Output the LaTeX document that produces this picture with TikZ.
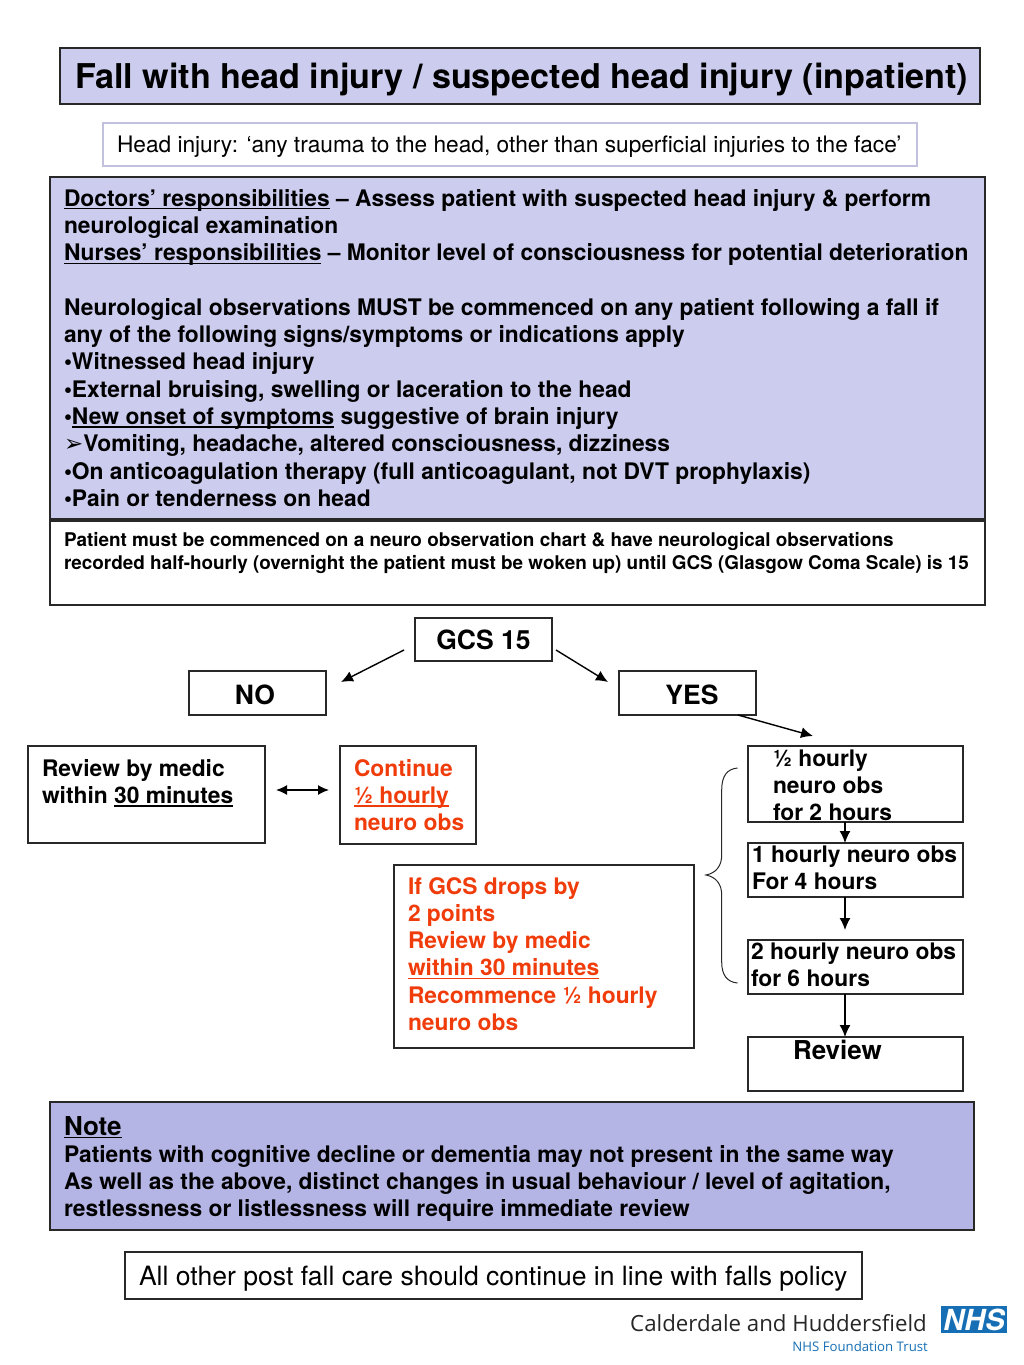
\documentclass[tikz,border=0pt]{standalone}
\usepackage{fontspec}
\setmainfont{TeX Gyre Heros}
\newfontfamily\logofont{Open Sans}
\newfontfamily\symfont{DejaVu Sans}
\usetikzlibrary{arrows.meta}

\definecolor{panelblue}{RGB}{204,204,238}
\definecolor{noteblue}{RGB}{181,181,229}
\definecolor{alertred}{RGB}{240,60,10}
\definecolor{nhsblue}{RGB}{22,110,180}
\definecolor{edgegray}{RGB}{40,40,40}

% width, height, left pad, first baseline, text
\newcommand{\topbox}[5]{\parbox[c][#2pt][t]{#1pt}{\raggedright\leftskip=#3pt\rule{0pt}{#4pt}#5\par}}
\newcommand{\bodyfont}{\fontsize{22.8}{27.3}\selectfont\bfseries}
\newcommand{\ulined}[1]{\leavevmode\setbox0\hbox{#1}\rlap{\rule[-3.4pt]{\wd0}{1.5pt}}\box0\relax}

\tikzset{
  panel/.style={draw=edgegray,line width=1.2pt,anchor=north west,inner sep=0pt,outer sep=0pt},
  bodytext/.style={font=\bodyfont},
  redtext/.style={font=\bodyfont,text=alertred},
  headbox/.style={panel,font=\fontsize{26.5}{30}\selectfont\bfseries,align=center,anchor=center,text depth=0pt},
  arrow/.style={line width=1.4pt,-{Latex[length=12pt,width=11pt]}}
}

\begin{document}
\begin{tikzpicture}[x=1pt,y=-1pt]
\useasboundingbox (0,0) rectangle (1024,1365);

\node[panel,fill=panelblue,font=\fontsize{34.15}{38}\selectfont\bfseries] (title) at (60,48)
  {\topbox{920}{56}{15}{40}{Fall with head injury / suspected head injury (inpatient)}};

\node[panel,draw=panelblue!85!gray,font=\fontsize{22.7}{26}\selectfont] (definition) at (103,123)
  {\topbox{814}{43}{14}{29}{Head injury: ‘any trauma to the head, other than superficial injuries to the face’}};

\node[panel,fill=panelblue,bodytext] (duties) at (50,177)
  {\topbox{935}{342}{14}{29}{\ulined{Doctors’ responsibilities} – Assess patient with suspected head injury \& perform\\
  neurological examination\\
  \ulined{Nurses’ responsibilities} – Monitor level of consciousness for potential deterioration\\
  ~\\
  Neurological observations MUST be commenced on any patient following a fall if\\
  any of the following signs/symptoms or indications apply\\
  •Witnessed head injury\\
  •External bruising, swelling or laceration to the head\\
  •\ulined{New onset of symptoms} suggestive of brain injury\\
  {\symfont\bfseries\fontsize{23}{27.3}\selectfont ➢}Vomiting, headache, altered consciousness, dizziness\\
  •On anticoagulation therapy (full anticoagulant, not DVT prophylaxis)\\
  •Pain or tenderness on head}};

\node[panel,font=\fontsize{18.9}{23}\selectfont\bfseries] (chart) at (50,521)
  {\topbox{935}{84}{14}{25}{Patient must be commenced on a neuro observation chart \& have neurological observations\\
  recorded half-hourly (overnight the patient must be woken up) until GCS (Glasgow Coma Scale) is 15}};

\node[headbox,minimum width=137pt,minimum height=43pt,text height=20pt] (gcs) at (483.5,639.5) {GCS 15};
\node[headbox,minimum width=137pt,minimum height=44pt,text height=23pt] (no) at (257.5,693) {NO\hspace*{5pt}};
\node[headbox,minimum width=137pt,minimum height=44pt,text height=23pt] (yes) at (687.5,693) {\hspace*{9pt}YES};

\node[panel,bodytext] (medic) at (28,746)
  {\topbox{237}{97}{14}{30}{Review by medic\\within \ulined{30 minutes}}};
\node[panel,redtext] (continue) at (340,746)
  {\topbox{136}{98}{14}{30}{Continue\\\ulined{½ hourly}\\neuro obs}};
\node[panel,redtext] (drops) at (394,865)
  {\topbox{300}{183}{14}{29}{If GCS drops by\\2 points\\Review by medic\\\ulined{within 30 minutes}\\Recommence ½ hourly\\neuro obs}};

\node[panel,bodytext] (half) at (748,746)
  {\topbox{215}{76}{25}{20}{½ hourly\\neuro obs\\for 2 hours}};
\node[panel,bodytext] (one) at (748,843)
  {\topbox{215}{54}{4}{19}{1 hourly neuro obs\\For 4 hours}};
\node[panel,bodytext] (two) at (748,940)
  {\topbox{215}{54}{3}{19}{2 hourly neuro obs\\for 6 hours}};
\node[panel,font=\fontsize{26}{30}\selectfont\bfseries] (review) at (748,1037)
  {\topbox{215}{54}{45}{22}{Review}};

\node[panel,fill=noteblue,bodytext] (note) at (50,1102)
  {\topbox{924}{128}{14}{33}{{\fontsize{26}{30}\selectfont\ulined{Note}}\\
  Patients with cognitive decline or dementia may not present in the same way\\
  As well as the above, distinct changes in usual behaviour / level of agitation,\\
  restlessness or listlessness will require immediate review}};

\node[panel,font=\fontsize{26.55}{30}\selectfont] (policy) at (125,1252)
  {\topbox{737}{47}{14}{33}{All other post fall care should continue in line with falls policy}};

\coordinate (gcsleft) at (404,650);
\coordinate (notip) at (341,682);
\coordinate (gcsright) at (556,650);
\coordinate (yestip) at (608,682);
\coordinate (yesfoot) at (738,715);
\coordinate (halftip) at (813,736);
\coordinate (medicside) at (276,790);
\coordinate (continueside) at (329,790);

\draw[arrow](gcsleft)--(notip);
\draw[arrow](gcsright)--(yestip);
\draw[arrow](yesfoot)--(halftip);
\draw[arrow,{Latex[length=11pt,width=10pt]}-{Latex[length=11pt,width=10pt]}](medicside)--(continueside);

\draw[arrow]([xshift=-10.5pt]half.south)--([xshift=-10.5pt]one.north);
\draw[arrow,shorten >=10pt]([xshift=-10.5pt]one.south)--([xshift=-10.5pt]two.north);
\draw[arrow]([xshift=-10.5pt]two.south)--([xshift=-10.5pt]review.north);

\draw[edgegray,line width=1pt](737.5,768) .. controls (727,769) and (721.7,776) .. (721.7,790)
  -- (721.7,855) .. controls (721.7,866) and (716,873) .. (706,875)
  .. controls (716,877) and (721.7,884) .. (721.7,895)
  -- (721.7,962) .. controls (721.7,975) and (727,982) .. (737.5,983);

\node[fill=nhsblue,text=white,minimum width=66pt,minimum height=27pt,inner sep=0pt,font=\fontsize{29}{30}\selectfont\bfseries\itshape] (nhs) at (974,1319.5) {NHS};
\node[anchor=base east,inner sep=0pt,text=black!85,font=\logofont\fontsize{22.25}{26}\selectfont] (trust) at (927,1331) {Calderdale and Huddersfield};
\node[anchor=base east,inner sep=0pt,text=nhsblue,font=\logofont\fontsize{13.2}{16}\selectfont] (foundation) at (928,1351) {NHS Foundation Trust};

\end{tikzpicture}
\end{document}
